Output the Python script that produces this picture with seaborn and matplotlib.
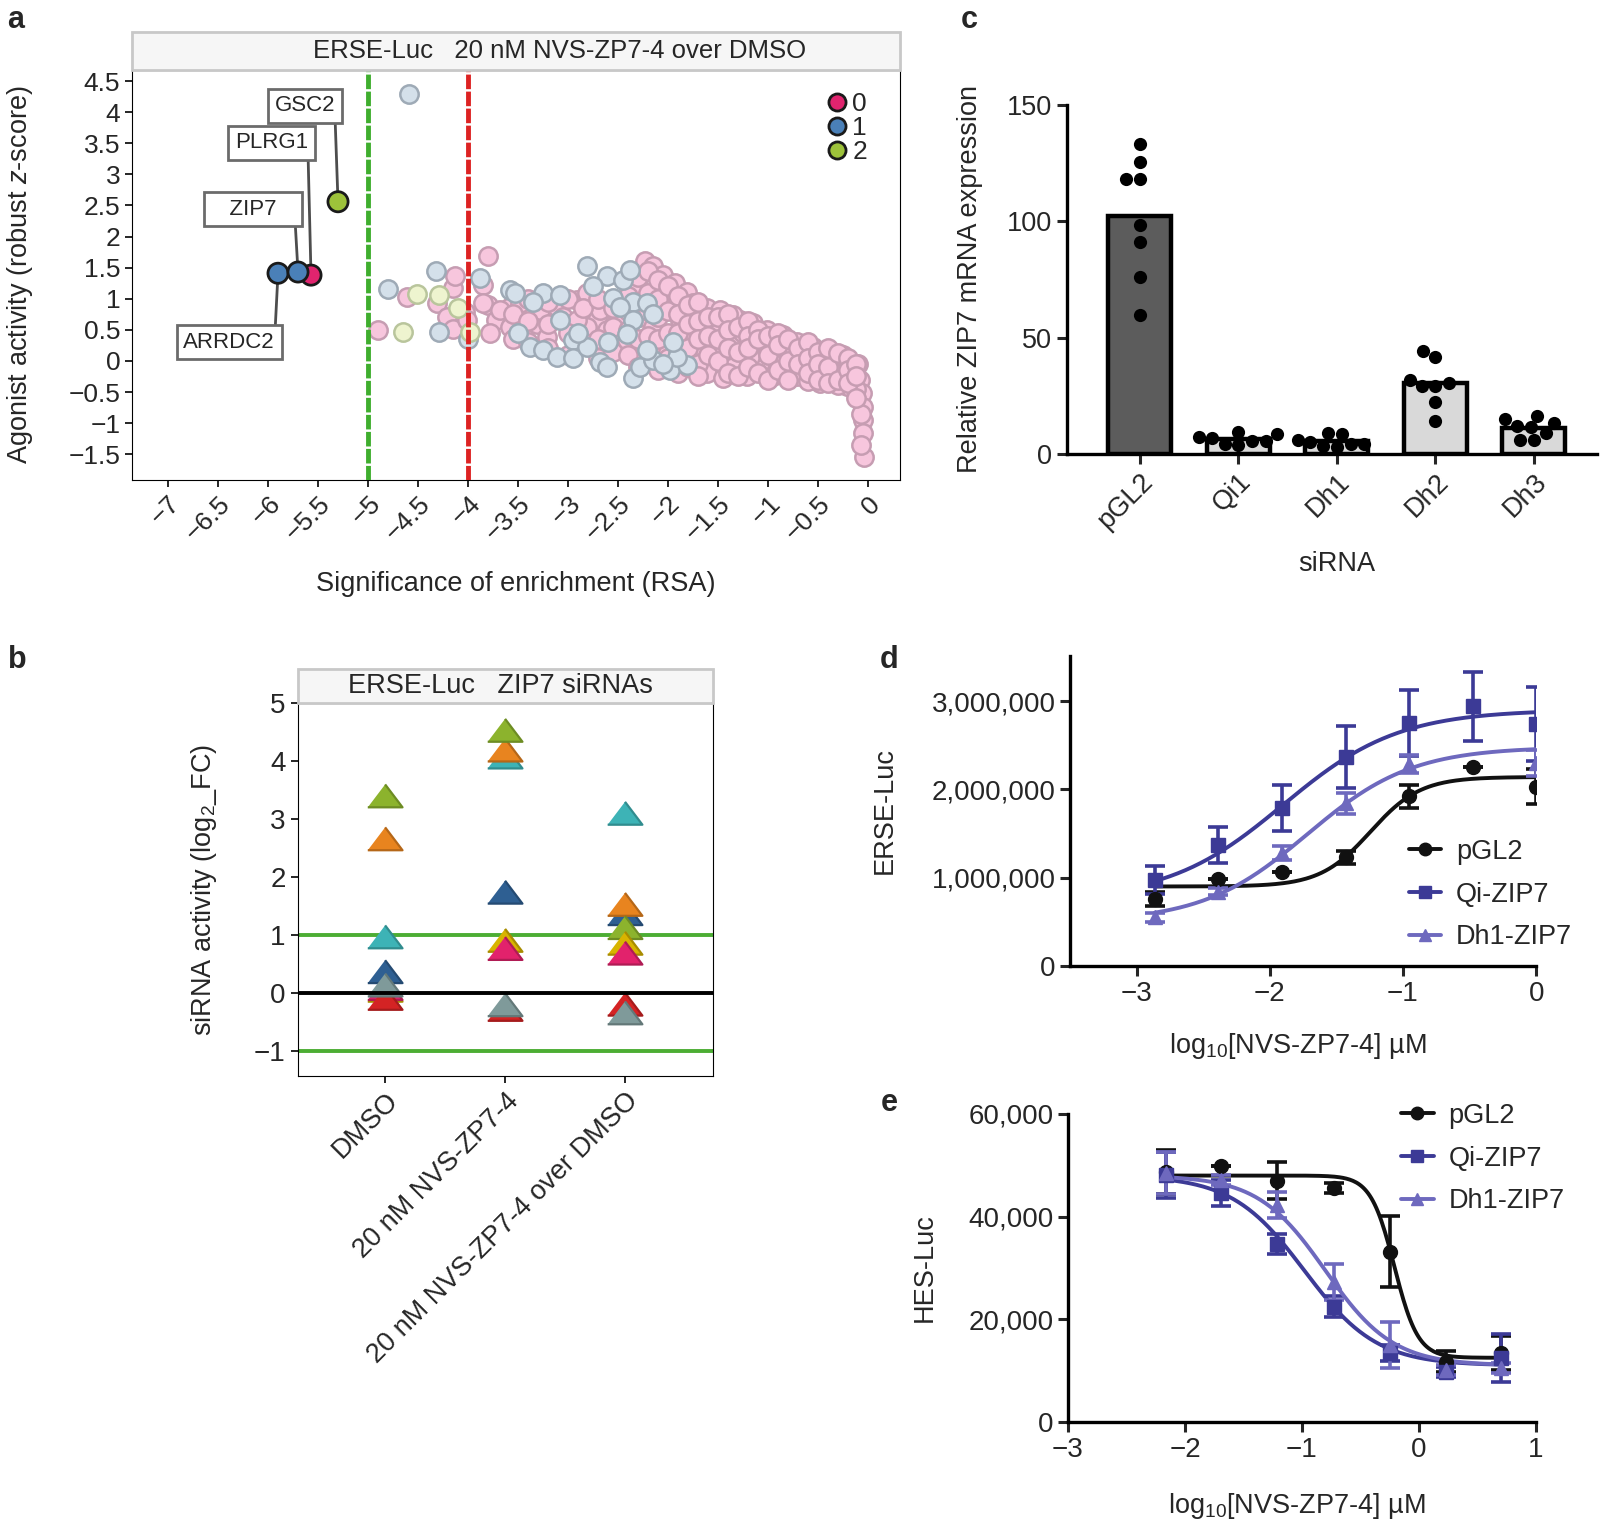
import numpy as np
import pandas as pd
import matplotlib
matplotlib.use("Agg")
import matplotlib.pyplot as plt
from matplotlib.patches import Rectangle
from matplotlib.lines import Line2D
from matplotlib.ticker import FuncFormatter
import seaborn as sns

# ---------------- a: RSA screen (one circle per gene) ----------------
pink_rsa = [-4.90, -4.61, -4.31, -4.21, -4.15, -4.13, -4.15, -4.03, -4.01, -3.80,
            -3.85, -3.80, -3.72, -3.78, -3.58, -3.45, -3.31, -3.85, -3.68, -3.48,
            -3.28, -3.11, -2.91, -2.71, -2.55, -2.81, -3.58, -3.21, -3.05, -2.91,
            -2.81, -2.68, -2.61, -2.51, -2.41, -2.28, -2.15, -2.08, -2.01, -1.88,
            -1.81, -1.75, -1.68, -1.61, -1.51, -1.48, -1.35, -1.31, -1.21, -1.15,
            -1.08, -0.95, -0.91, -0.81, -0.71, -0.68, -0.55, -0.48, -0.38, -0.35,
            -0.25, -0.21, -0.15, -1.28, -1.01, -1.68, -1.18, -2.23, -2.15, -2.05,
            -1.93, -1.81, -1.75, -1.61, -1.48, -1.35, -1.15, -1.01, -0.85, -0.71,
            -0.55, -0.35, -0.18, -0.08, -0.06, -0.05, -0.05, -0.05, -0.04, -1.45,
            -0.60, -0.30, -0.12, -0.45, -0.85, -1.25, -1.90, -2.00, -2.30, -2.10,
            -1.70, -0.25, -0.10, -0.07, -0.07,
            -3.55, -3.55, -3.40, -3.40, -3.40, -3.20, -3.20, -3.20, -3.00, -3.00,
            -3.00, -2.85, -2.85, -2.70, -2.70, -2.70, -2.55, -2.55, -2.55, -2.40,
            -2.40, -2.40, -2.40, -2.30, -2.30, -2.30, -2.30, -2.20, -2.20, -2.20,
            -2.20, -2.20, -2.10, -2.10, -2.10, -2.10, -2.10, -2.00, -2.00, -2.00,
            -2.00, -1.90, -1.90, -1.90, -1.90, -1.90, -1.80, -1.80, -1.80, -1.80,
            -1.70, -1.70, -1.70, -1.70, -1.70, -1.60, -1.60, -1.60, -1.50, -1.50,
            -1.50, -1.40, -1.40, -1.40, -1.40, -1.30, -1.30, -1.30, -1.20, -1.20,
            -1.20, -1.20, -1.10, -1.10, -1.10, -1.00, -1.00, -1.00, -0.90, -0.90,
            -0.90, -0.80, -0.80, -0.80, -0.70, -0.70, -0.60, -0.60, -0.60, -0.50,
            -0.50, -0.50, -0.40, -0.40, -0.40, -0.30, -0.30, -0.20, -0.20, -0.20,
            -0.12, -0.12, -0.12]
pink_z = [0.50, 1.03, 0.93, 0.71, 1.17, 1.36, 0.52, 0.79, 0.66, 1.68,
          1.22, 0.90, 0.66, 0.45, 0.87, 0.50, 0.60, 0.93, 0.82, 0.93,
          0.82, 0.87, 0.98, 0.66, 0.39, 0.55, 0.55, 0.39, 0.71, 0.66,
          1.09, 0.82, 0.50, 0.66, 0.34, 0.71, 0.55, 0.28, 0.93, 0.66,
          0.34, 0.02, 0.50, -0.20, 0.12, 0.50, -0.09, 0.39, -0.25, 0.23,
          -0.04, -0.25, 0.07, -0.09, -0.25, 0.12, -0.14, -0.36, 0.02, -0.25,
          -0.14, -0.41, -0.25, 0.66, 0.23, 0.77, 0.07, 1.60, 1.52, 1.38,
          1.25, 1.11, 0.93, 0.85, 0.82, 0.74, 0.61, 0.50, 0.42, 0.31,
          0.23, 0.07, -0.10, -0.31, -0.52, -0.74, -0.95, -1.16, -1.54, -0.28,
          -0.33, -0.38, -0.45, 0.12, 0.20, 0.45, 0.95, 0.15, 1.20, 1.15,
          0.25, 0.10, -0.05, -0.85, -1.35,
          0.75, 0.35, 1.00, 0.65, 0.30, 0.95, 0.60, 0.20, 1.00, 0.45,
          0.10, 0.85, 0.30, 1.00, 0.35, 0.05, 0.85, 0.55, 0.15, 1.05,
          0.80, 0.50, 0.10, 1.35, 0.95, 0.35, -0.10, 1.45, 1.10, 0.80,
          0.40, 0.00, 1.30, 1.00, 0.70, 0.35, -0.15, 1.20, 0.80, 0.45,
          0.05, 1.05, 0.75, 0.45, 0.15, -0.20, 0.90, 0.60, 0.20, -0.10,
          0.95, 0.65, 0.35, -0.05, -0.25, 0.70, 0.40, 0.10, 0.70, 0.35,
          0.00, 0.75, 0.50, 0.20, -0.20, 0.55, 0.15, -0.25, 0.65, 0.40,
          0.20, -0.10, 0.50, 0.35, -0.20, 0.40, 0.10, -0.30, 0.45, 0.25,
          -0.15, 0.35, 0.00, -0.30, 0.20, -0.05, 0.30, 0.05, -0.20, 0.15,
          -0.05, -0.30, 0.20, -0.10, -0.35, 0.12, -0.30, 0.05, -0.15, -0.35,
          -0.05, -0.25, -0.60]
blue_rsa = [-4.59, -4.80, -4.32, -4.29, -4.00, -3.88, -3.58, -3.53, -3.25, -3.38,
            -3.25, -2.81, -2.61, -2.45, -2.38, -3.08, -2.55, -2.35, -2.21, -2.48,
            -2.35, -3.08, -2.95, -3.11, -2.95, -2.68, -2.61, -2.35, -2.28, -2.15,
            -1.98, -1.81, -1.91, -2.81, -2.21, -2.41, -3.35, -2.90, -2.60, -2.15,
            -1.95, -3.50, -2.75, -2.05]
blue_z = [4.30, 1.15, 1.44, 0.46, 0.36, 1.33, 1.14, 1.09, 1.09, 0.23,
          0.18, 1.52, 1.36, 1.30, 1.46, 1.06, 1.01, 0.95, 0.93, 0.87,
          0.66, 0.66, 0.34, 0.07, 0.04, -0.01, -0.09, -0.28, -0.09, 0.02,
          -0.14, -0.06, 0.07, 0.23, 0.18, 0.44, 0.95, 0.45, 0.30, 0.75,
          0.30, 0.45, 1.20, -0.05]
green_rsa = [-4.65, -4.51, -4.29, -4.10, -3.98]
green_z = [0.47, 1.07, 1.06, 0.85, 0.47]

hit_genes = ["PLRG1", "ARRDC2", "ZIP7", "GSC2"]
hit_rsa = [-5.57, -5.90, -5.70, -5.30]
hit_z = [1.38, 1.41, 1.43, 2.56]
hit_group = ["0", "1", "1", "2"]

# ---------------- b: ZIP7 siRNAs ----------------
b_conditions = ["DMSO", "20 nM NVS-ZP7-4", "20 nM NVS-ZP7-4 over DMSO"]
b_sirnas = ["si-1", "si-2", "si-3", "si-4", "si-5", "si-6", "si-7", "si-8"]
b_si1 = [0.97, 4.07, 3.10]
b_si2 = [0.37, 1.74, 1.37]
b_si3 = [2.66, 4.19, 1.53]
b_si4 = [3.40, 4.53, 1.13]
b_si5 = [0.05, 0.91, 0.86]
b_si6 = [0.08, 0.77, 0.69]
b_si7 = [-0.09, -0.28, -0.19]
b_si8 = [0.14, -0.20, -0.34]
b_colors = ["#3db3b6", "#2e5f92", "#e8841f", "#8cb32d", "#d8b400", "#e2226c", "#d42324", "#7f9a9a"]

# ---------------- c: knockdown qPCR ----------------
c_sirnas = ["pGL2", "Qi1", "Dh1", "Dh2", "Dh3"]
c_pgl2 = [133, 118, 118, 125.4, 98.6, 91.2, 76, 59.6]
c_qi1 = [7.5, 8.5, 3.8, 9.5, 7.0, 5.5, 4.5, 5.5]
c_dh1 = [9.0, 8.5, 5.2, 4.4, 3.5, 4.2, 3.2, 5.8]
c_dh2 = [41.7, 44.1, 32.0, 29.1, 29.1, 30.5, 22.2, 14.0]
c_dh3 = [16.5, 11.5, 15.0, 13.5, 12.0, 9.0, 6.0, 6.0]

# ---------------- d / e: dose response ----------------
series = ["pGL2", "Qi-ZIP7", "Dh1-ZIP7"]
series_colors = ["#111111", "#3c3a96", "#6e69be"]
series_markers = ["o", "s", "^"]

d_logc = [-2.865, -2.39, -1.91, -1.43, -0.955, -0.475, 0.0]
d_pgl2 = [0.76e6, 0.985e6, 1.06e6, 1.23e6, 1.92e6, 2.25e6, 2.03e6]
d_pgl2_sem = [0.08e6, 0.0, 0.0, 0.07e6, 0.13e6, 0.0, 0.20e6]
d_qi = [0.97e6, 1.37e6, 1.79e6, 2.37e6, 2.75e6, 2.94e6, 2.74e6]
d_qi_sem = [0.16e6, 0.20e6, 0.26e6, 0.35e6, 0.37e6, 0.39e6, 0.42e6]
d_dh1 = [0.55e6, 0.84e6, 1.28e6, 1.84e6, 2.29e6, np.nan, 2.30e6]
d_dh1_sem = [0.05e6, 0.04e6, 0.08e6, 0.12e6, 0.10e6, np.nan, 0.15e6]
# 4PL fits: bottom, top, logEC50, hill
d_fit_pgl2 = [0.90e6, 2.14e6, -1.245, 2.3]
d_fit_qi = [0.75e6, 2.90e6, -1.90, 1.0]
d_fit_dh1 = [0.50e6, 2.48e6, -1.72, 1.1]

e_logc = [-2.16, -1.69, -1.21, -0.73, -0.25, 0.23, 0.70]
e_pgl2 = [48700, 49900, 47000, 45600, 33200, 11750, 13400]
e_pgl2_sem = [4300, 0, 3600, 1000, 6900, 2000, 3300]
e_qi = [48100, 44600, 34700, 22450, 13400, 9800, 12500]
e_qi_sem = [4500, 2500, 2000, 2000, 1500, 1000, 4700]
e_dh1 = [48500, 47100, 42300, 27300, 15000, 10100, 10500]
e_dh1_sem = [4000, 1000, 2500, 3500, 4500, 1000, 1000]
e_fit_pgl2 = [12500, 48000, -0.21, -4.3]
e_fit_qi = [11000, 48000, -0.98, -1.4]
e_fit_dh1 = [11000, 48000, -0.80, -1.5]


def four_pl(x, p):
    bottom, top, mid, hill = p
    return bottom + (top - bottom) / (1 + 10 ** ((mid - x) * hill))


def minus_fmt(v, pos):
    return f"{v:g}".replace("-", "\u2212")


def strip(ax, text, h, xt, fs):
    ax.add_patch(Rectangle((0, 1), 1, h, transform=ax.transAxes, clip_on=False,
                           fc="#f6f6f6", ec="#c8c8c8", lw=2, zorder=10))
    ax.text(xt, 1 + h / 2, text, transform=ax.transAxes, ha="center", va="center",
            fontsize=fs, zorder=11)


sns.set_style("ticks")
plt.rcParams["font.family"] = ["Liberation Sans", "DejaVu Sans"]
plt.rcParams["mathtext.fontset"] = "custom"
plt.rcParams["mathtext.rm"] = "Liberation Sans"
plt.rcParams["mathtext.it"] = "Liberation Sans:italic"
plt.rcParams["axes.edgecolor"] = "black"

fig = plt.figure(figsize=(16.06, 15.27), dpi=100)
ax_a = fig.add_axes([0.0822, 0.6857, 0.4782, 0.2685])
ax_b = fig.add_axes([0.1853, 0.2953, 0.2584, 0.2443])
ax_c = fig.add_axes([0.6644, 0.7027, 0.3300, 0.2286])
ax_d = fig.add_axes([0.6663, 0.3674, 0.2902, 0.2030])
ax_e = fig.add_axes([0.6650, 0.0688, 0.2914, 0.2017])

# ---- panel a
sns.scatterplot(x=pink_rsa, y=pink_z, color="#f7c6dd", edgecolor="#c69db2", s=175,
                linewidth=1.8, legend=False, ax=ax_a)
sns.scatterplot(x=blue_rsa, y=blue_z, color="#d4e0ea", edgecolor="#9eaab6", s=175,
                linewidth=1.8, legend=False, ax=ax_a)
sns.scatterplot(x=green_rsa, y=green_z, color="#eef4cf", edgecolor="#b9c59c", s=175,
                linewidth=1.8, legend=False, ax=ax_a)
ax_a.axvline(-5, color="#3fae2e", lw=3.5, ls=(0, (3, 0.5)), zorder=3)
ax_a.axvline(-4, color="#dd2222", lw=3.5, ls=(0, (3, 0.5)), zorder=3)

hits = pd.DataFrame({"gene": hit_genes, "rsa": hit_rsa, "z": hit_z, "grp": hit_group})
sns.scatterplot(data=hits, x="rsa", y="z", hue="grp", hue_order=["0", "1", "2"],
                palette=["#e0246e", "#4a80b8", "#9dc23a"], s=210, edgecolor="#1a1a1a",
                linewidth=2, ax=ax_a, zorder=6)
label_y = {"GSC2": 4.10, "PLRG1": 3.51, "ZIP7": 2.44, "ARRDC2": 0.30}
label_txt = {"GSC2": "GSC2", "PLRG1": "PLRG1", "ZIP7": "   ZIP7   ", "ARRDC2": "ARRDC2"}
for g, x, y in zip(hit_genes, hit_rsa, hit_z):
    ty = label_y[g]
    ax_a.annotate(label_txt[g], xy=(x, y), xytext=(x - 0.03, ty), ha="right", va="center",
                  fontsize=16,
                  bbox=dict(boxstyle="square,pad=0.3", fc="white", ec="#6b6b6b", lw=2),
                  arrowprops=dict(arrowstyle="-", color="#4d4d4d", lw=2,
                                  relpos=(1, 0) if ty > y else (1, 1), shrinkA=0, shrinkB=0),
                  zorder=4)
ax_a.legend(loc="upper left", bbox_to_anchor=(0.902, 0.945), frameon=False, fontsize=19,
            borderpad=0, borderaxespad=0, handletextpad=0.15, labelspacing=0.0,
            handlelength=0.9, markerscale=0.85)
ax_a.set_xlim(-7.36, 0.32)
ax_a.set_ylim(-1.914, 4.68)
ax_a.set_xticks(np.arange(-7, 0.01, 0.5))
ax_a.set_yticks(np.arange(-1.5, 4.51, 0.5))
ax_a.xaxis.set_major_formatter(FuncFormatter(minus_fmt))
ax_a.yaxis.set_major_formatter(FuncFormatter(minus_fmt))
ax_a.tick_params(labelsize=19, length=5, width=1.4)
plt.setp(ax_a.get_xticklabels(), rotation=45, ha="right", rotation_mode="anchor")
ax_a.set_xlabel("Significance of enrichment (RSA)", fontsize=19.5)
ax_a.set_ylabel("Agonist activity (robust $z$-score)", fontsize=19.5)
ax_a.xaxis.set_label_coords(0.5, -0.222)
ax_a.yaxis.set_label_coords(-0.126, 0.5)
strip(ax_a, "ERSE-Luc   20 nM NVS-ZP7-4 over DMSO", 0.0927, 0.557, 18.5)

# ---- panel b
b_vals = [b_si1, b_si2, b_si3, b_si4, b_si5, b_si6, b_si7, b_si8]
b_df = pd.DataFrame([(s, c, v) for s, vals in zip(b_sirnas, b_vals)
                     for c, v in zip(b_conditions, vals)],
                    columns=["sirna", "condition", "log2fc"])
ax_b.axhline(1, color="#4cad33", lw=2.8, zorder=1)
ax_b.axhline(-1, color="#4cad33", lw=2.8, zorder=1)
tri = [(-1, -0.66), (1, -0.66), (0, 0.66)]
sns.stripplot(data=b_df, x="condition", y="log2fc", hue="sirna", hue_order=b_sirnas,
              palette=b_colors, order=b_conditions, jitter=False, dodge=False,
              marker=tri, size=25, linewidth=1.6, legend=False, ax=ax_b, zorder=2)
for coll in ax_b.collections:
    fc = np.array(coll.get_facecolor())
    if len(fc):
        ec = fc.copy()
        ec[:, :3] = ec[:, :3] * 0.78
        coll.set_edgecolor(ec)
ax_b.axhline(0, color="black", lw=2.8, zorder=4)
ax_b.set_xlim(-0.73, 2.73)
ax_b.set_ylim(-1.43, 5)
ax_b.set_yticks(range(-1, 6))
ax_b.yaxis.set_major_formatter(FuncFormatter(minus_fmt))
ax_b.tick_params(axis="y", labelsize=20, length=5, width=1.4)
ax_b.tick_params(axis="x", labelsize=19.5, length=5, width=1.4)
plt.setp(ax_b.get_xticklabels(), rotation=45, ha="right", rotation_mode="anchor")
ax_b.set_xlabel("")
ax_b.set_ylabel("siRNA activity (log$_2$_FC)", fontsize=19.5)
ax_b.yaxis.set_label_coords(-0.19, 0.5)
strip(ax_b, "ERSE-Luc   ZIP7 siRNAs", 0.091, 0.49, 19.5)

# ---- panel c
c_vals = [c_pgl2, c_qi1, c_dh1, c_dh2, c_dh3]
c_df = pd.DataFrame([(s, v) for s, vals in zip(c_sirnas, c_vals) for v in vals],
                    columns=["sirna", "expr"])
sns.barplot(data=c_df, x="sirna", y="expr", hue="sirna", order=c_sirnas,
            palette=["#5c5c5c", "#d9d9d9", "#d9d9d9", "#d9d9d9", "#d9d9d9"],
            errorbar=None, width=0.64, edgecolor="black", linewidth=3.2,
            legend=False, ax=ax_c)
sns.swarmplot(data=c_df, x="sirna", y="expr", order=c_sirnas, color="black", size=9.5,
              ax=ax_c)
ax_c.set_xlim(-0.74, 4.64)
ax_c.set_ylim(0, 150)
ax_c.set_yticks([0, 50, 100, 150])
sns.despine(ax=ax_c)
for sp in ["left", "bottom"]:
    ax_c.spines[sp].set_linewidth(2.4)
ax_c.tick_params(labelsize=19.5, length=7, width=2.2)
plt.setp(ax_c.get_xticklabels(), rotation=45, ha="right", rotation_mode="anchor")
ax_c.set_xlabel("siRNA", fontsize=19.5)
ax_c.set_ylabel("Relative ZIP7 mRNA expression", fontsize=19.5)
ax_c.xaxis.set_label_coords(0.508, -0.278)
ax_c.yaxis.set_label_coords(-0.158, 0.5)


# ---- panels d and e
def dose_panel(ax, logc, means, sems, fits, ylab, xlim, ylim, yticks):
    xs = np.linspace(min(logc), max(logc), 200)
    for m, s, p, col, mk in zip(means, sems, fits, series_colors, series_markers):
        sns.lineplot(x=xs, y=four_pl(xs, p), color=col, lw=2.8, ax=ax)
        ax.errorbar(logc, m, yerr=s, fmt=mk, color=col, ms=10, capsize=7.5,
                    capthick=2.6, elinewidth=2.6)
    ax.set_xlim(*xlim)
    ax.set_ylim(*ylim)
    ax.set_yticks(yticks)
    ax.yaxis.set_major_formatter(FuncFormatter(lambda v, pos: f"{v:,.0f}"))
    ax.xaxis.set_major_formatter(FuncFormatter(minus_fmt))
    sns.despine(ax=ax)
    for sp in ["left", "bottom"]:
        ax.spines[sp].set_linewidth(2.4)
    ax.tick_params(labelsize=20, length=7, width=2.2)
    ax.set_xlabel("log$_{10}$[NVS-ZP7-4] \u00b5M", fontsize=19.5)
    ax.set_ylabel(ylab, fontsize=19.5)
    handles = [Line2D([], [], color=c, marker=mk, lw=2.8, ms=9)
               for c, mk in zip(series_colors, series_markers)]
    return handles


h = dose_panel(ax_d, d_logc, [d_pgl2, d_qi, d_dh1], [d_pgl2_sem, d_qi_sem, d_dh1_sem],
               [d_fit_pgl2, d_fit_qi, d_fit_dh1], "ERSE-Luc", (-3.5, 0.0), (0, 3.51e6),
               [0, 1e6, 2e6, 3e6])
ax_d.set_xticks([-3, -2, -1, 0])
ax_d.legend(h, series, loc="center left", bbox_to_anchor=(0.674, 0.23), frameon=False,
            fontsize=19.5, handlelength=1.2, handletextpad=0.55, labelspacing=0.62)
ax_d.xaxis.set_label_coords(0.489, -0.21)
ax_d.yaxis.set_label_coords(-0.37, 0.5)

h = dose_panel(ax_e, e_logc, [e_pgl2, e_qi, e_dh1], [e_pgl2_sem, e_qi_sem, e_dh1_sem],
               [e_fit_pgl2, e_fit_qi, e_fit_dh1], "HES-Luc", (-3.0, 1.0), (0, 60000),
               [0, 20000, 40000, 60000])
ax_e.set_xticks([-3, -2, -1, 0, 1])
ax_e.legend(h, series, loc="center left", bbox_to_anchor=(0.66, 0.855), frameon=False,
            fontsize=19.5, handlelength=1.2, handletextpad=0.55, labelspacing=0.62)
ax_e.xaxis.set_label_coords(0.49, -0.224)
ax_e.yaxis.set_label_coords(-0.278, 0.5)

# panel letters
for letter, (px, py) in {"a": (16, 20), "b": (17, 660), "c": (969, 20),
                         "d": (889, 660), "e": (889, 1103)}.items():
    fig.text(px / 1606, 1 - py / 1527, letter, fontsize=22, fontweight="bold",
             ha="center", va="center")

fig.savefig("out.png", dpi=100)
